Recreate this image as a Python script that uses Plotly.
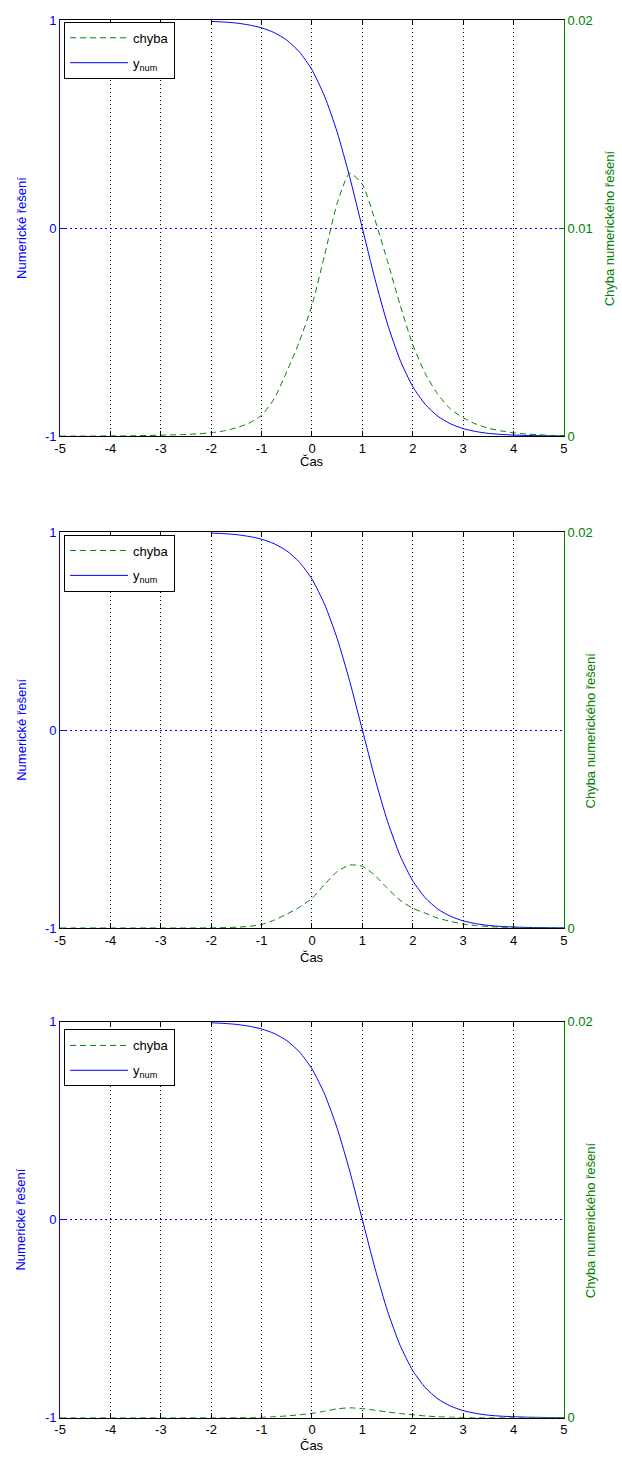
import plotly.graph_objects as go

# ---------------- data ----------------
x_err = [-5, -4.75, -4.5, -4.25, -4, -3.75, -3.5, -3.25, -3, -2.75, -2.5, -2.25,
         -2, -1.75, -1.5, -1.25, -1, -0.75, -0.5, -0.25, 0, 0.25, 0.5, 0.75,
         1, 1.25, 1.5, 1.75, 2, 2.25, 2.5, 2.75, 3, 3.25, 3.5, 3.75, 4, 4.25,
         4.5, 4.75, 5]

err1 = [0.0, 0.0, 0.0, 0.0, 0.00001, 0.00001, 0.00002, 0.00003, 0.00004, 0.00006,
        0.00008, 0.00011, 0.00016, 0.00025, 0.00040, 0.00062, 0.00100, 0.00180,
        0.00310, 0.00455, 0.00630, 0.00870, 0.01120, 0.01265, 0.01210, 0.01040,
        0.00840, 0.00630, 0.00440, 0.00300, 0.00200, 0.00130, 0.00088, 0.00058,
        0.00038, 0.00025, 0.00016, 0.00010, 0.00006, 0.00003, 0.00002]

err2 = [0.0, 0.0, 0.0, 0.0, 0.0, 0.0, 0.0, 0.0, 0.0, 0.0,
        0.0, 0.0, 0.00001, 0.00002, 0.00004, 0.00008, 0.00018, 0.00040,
        0.00070, 0.00105, 0.00150, 0.00220, 0.00285, 0.00318, 0.00312, 0.00265,
        0.00200, 0.00140, 0.00100, 0.00075, 0.00050, 0.00033, 0.00020, 0.00012,
        0.00007, 0.00004, 0.00002, 0.00001, 0.00001, 0.0, 0.0]

err3 = [0.0, 0.0, 0.0, 0.0, 0.0, 0.0, 0.0, 0.0, 0.0, 0.0,
        0.0, 0.0, 0.0, 0.0, 0.00001, 0.00001, 0.00002, 0.00005,
        0.00009, 0.00015, 0.00022, 0.00033, 0.00045, 0.00050, 0.00046, 0.00038,
        0.00029, 0.00021, 0.00015, 0.00009, 0.00005, 0.00003, 0.00001, 0.0,
        0.0, 0.0, 0.0, 0.0, 0.0, 0.0, 0.0]

x_num = [-2, -1.75, -1.5, -1.25, -1, -0.75, -0.5, -0.25, 0, 0.25, 0.5, 0.75,
         1, 1.25, 1.5, 1.75, 2, 2.25, 2.5, 2.75, 3, 3.25, 3.5, 3.75, 4, 4.25,
         4.5, 4.75, 5]
y_num = [0.995, 0.992, 0.987, 0.978, 0.964, 0.941, 0.905, 0.848, 0.762, 0.635,
         0.462, 0.245, 0.0, -0.245, -0.462, -0.635, -0.762, -0.848, -0.905,
         -0.941, -0.964, -0.978, -0.987, -0.992, -0.995, -0.997, -0.998,
         -0.999, -0.9993]

errors = [err1, err2, err3]
x_ticks = [-5, -4, -3, -2, -1, 0, 1, 2, 3, 4, 5]
x_ticktext = ["-5", "-4", "-3", "-2", "-1", "0", "1", "2", "3", "4", "5"]
left_ticks = [-1, 0, 1]
left_ticktext = ["-1", "0", "1"]
right_ticks = [[0, 0.01, 0.02], [0, 0.02], [0, 0.02]]
right_ticktext = [["0", "0.01", "0.02"], ["0", "0.02"], ["0", "0.02"]]

# ---------------- layout geometry (pixels) ----------------
W, H = 622, 1468
BLUE = "#0000ff"
GREEN = "#008000"
FONT = "Liberation Sans, Arial, sans-serif"
FS = 13
x_left, x_right = 55, 567
panels = [  # top px, bottom px, xlabel y, right title x, legend top
    (13.5, 433.5, 461, 610, 15),
    (530.5, 930.5, 962, 591, 533),
    (1025.3, 1425.3, 1455, 591, 1033),
]

fig = go.Figure()
layout = dict(width=W, height=H, margin=dict(l=0, r=0, t=0, b=0),
              paper_bgcolor="white", plot_bgcolor="white",
              font=dict(family=FONT, size=FS, color="black"),
              showlegend=True, annotations=[])

for i, (top, bot, xlab_y, rt_x, leg_top) in enumerate(panels):
    xa = "x" if i == 0 else f"x{i+1}"
    ya_l = 2 * i + 1
    ya_r = 2 * i + 2
    yl = "y" if ya_l == 1 else f"y{ya_l}"
    yr = f"y{ya_r}"
    leg = "legend" if i == 0 else f"legend{i+1}"
    dom = [1 - bot / H, 1 - top / H]

    fig.add_trace(go.Scatter(x=x_err, y=errors[i], xaxis=xa, yaxis=yr,
                             mode="lines", name="chyba", legend=leg,
                             legendgroup=f"e{i}",
                             line=dict(color=GREEN, width=1, dash="6px,4px",
                                       shape="spline", smoothing=0.6)))
    fig.add_trace(go.Scatter(x=x_num, y=y_num, xaxis=xa, yaxis=yl,
                             mode="lines", name="y<sub>num</sub>", legend=leg,
                             legendgroup=f"n{i}",
                             line=dict(color=BLUE, width=1,
                                       shape="spline", smoothing=0.6)))

    xkey = "xaxis" if i == 0 else f"xaxis{i+1}"
    ylkey = "yaxis" if ya_l == 1 else f"yaxis{ya_l}"
    yrkey = f"yaxis{ya_r}"
    layout[xkey] = dict(domain=[x_left / W, x_right / W], anchor=yl,
                        range=[-5, 5], tickvals=x_ticks, ticktext=x_ticktext,
                        ticks="inside", ticklen=5, tickcolor="black",
                        showline=True, linecolor="black", linewidth=1,
                        mirror="ticks", showgrid=True, gridcolor="black",
                        griddash="1px,3px", gridwidth=1, zeroline=False,
                        tickfont=dict(size=FS, color="black"))
    layout[ylkey] = dict(domain=dom, anchor=xa, range=[-1, 1],
                         tickvals=left_ticks, ticktext=left_ticktext,
                         ticks="inside", ticklen=5, tickcolor=BLUE,
                         showline=True, linecolor=BLUE, linewidth=1,
                         showgrid=True, gridcolor=BLUE, griddash="2px,3px",
                         gridwidth=1, zeroline=False,
                         tickfont=dict(size=FS, color=BLUE))
    layout[yrkey] = dict(domain=dom, anchor=xa, overlaying=yl, side="right",
                         range=[0, 0.02], tickvals=right_ticks[i],
                         ticktext=right_ticktext[i],
                         ticks="inside", ticklen=5, tickcolor=GREEN,
                         showline=True, linecolor=GREEN, linewidth=1,
                         showgrid=False, zeroline=False,
                         tickfont=dict(size=FS, color=GREEN))
    layout[leg] = dict(x=59 / W, y=1 - leg_top / H, xanchor="left",
                       yanchor="top", bgcolor="white", bordercolor="black",
                       borderwidth=1, font=dict(size=FS, color="black"),
                       itemwidth=58, tracegroupgap=5)

    mid = 1 - (top + bot) / 2 / H
    layout["annotations"] += [
        dict(text="Numerické řešení", xref="paper", yref="paper",
             x=15 / W, y=mid, textangle=-90, showarrow=False,
             xanchor="center", yanchor="middle",
             font=dict(size=FS, color=BLUE)),
        dict(text="Chyba numerického řešení", xref="paper", yref="paper",
             x=(rt_x + 3) / W, y=mid, textangle=-90, showarrow=False,
             xanchor="center", yanchor="middle",
             font=dict(size=FS, color=GREEN)),
        dict(text="Čas", xref="paper", yref="paper",
             x=(x_left + x_right) / 2 / W, y=1 - (xlab_y - 2) / H,
             showarrow=False, xanchor="center", yanchor="middle",
             font=dict(size=FS, color="black")),
    ]

fig.update_layout(**layout)
fig.write_html("out.html")
